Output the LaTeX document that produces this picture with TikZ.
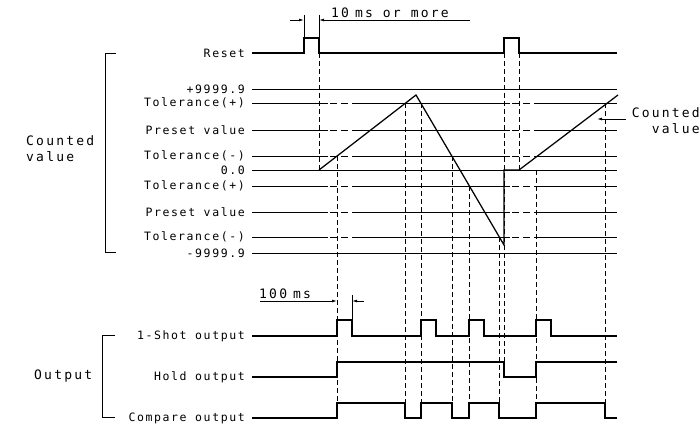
\documentclass[tikz,border=0pt]{standalone}
\usepackage{fontspec}
\newfontfamily\lblfont[LetterSpace=14]{DejaVu Sans Mono}
\newfontfamily\bigfont[LetterSpace=17]{DejaVu Sans Mono}
\usetikzlibrary{arrows.meta}
\begin{document}
\begin{tikzpicture}[x=1pt,y=-1pt,
  lvl/.style={line width=0.9pt},
  sig/.style={line width=1.25pt, line join=miter},
  guide/.style={line width=0.75pt, dash pattern=on 5pt off 3pt},
  dashseg/.style={line width=0.9pt, dash pattern=on 7pt off 4pt},
  lbl/.style={anchor=east, font=\lblfont\fontsize{11.5}{13}\selectfont, inner sep=0pt},
  big/.style={font=\bigfont\fontsize{13}{16}\selectfont, inner sep=0pt},
  dimline/.style={line width=0.75pt},
  tip/.style={-{Latex[length=5pt,width=2.8pt]}},
]
\useasboundingbox (0,0) rectangle (700,427);

% ---------- left labels ----------
\node[lbl] (lreset) at (245,53) {Reset};
\node[lbl] (lpmax)  at (245,89) {+9999.9};
\node[lbl] (ltpa)   at (245,103) {Tolerance(+)};
\node[lbl] (lpra)   at (245,130) {Preset value};
\node[lbl] (ltma)   at (245,156) {Tolerance(-)};
\node[lbl] (lzero)  at (245,170) {0.0};
\node[lbl] (ltpb)   at (245,186) {Tolerance(+)};
\node[lbl] (lprb)   at (245,212) {Preset value};
\node[lbl] (ltmb)   at (245,237) {Tolerance(-)};
\node[lbl] (lpmin)  at (245,253) {-9999.9};
\node[lbl] (lshot)  at (245,336) {1-Shot output};
\node[lbl] (lhold)  at (245,377) {Hold output};
\node[lbl] (lcomp)  at (245,418) {Compare output};

% group labels and brackets
\node[big, anchor=west, align=left] (lcv) at (26,149) {Counted\\value};
\node[big, anchor=west] (lout) at (34,376) {Output};
\draw[lvl] (116,53) -- (105,53) -- (105,252) -- (116,252);
\draw[lvl] (115,335) -- (102,335) -- (102,417) -- (115,417);

% ---------- level lines ----------
\draw[lvl] (252,89) -- (617,89);
\draw[lvl] (252,170) -- (617,170);
\draw[lvl] (252,253) -- (617,253);
\foreach \yy in {103,130,156,186,212,237}{
  \draw[lvl] (252,\yy) -- (328,\yy);
  \draw[dashseg] (330,\yy) -- (352,\yy);
  \draw[lvl] (352,\yy) -- (510,\yy);
  \draw[dashseg] (512,\yy) -- (534,\yy);
  \draw[lvl] (534,\yy) -- (617,\yy);
}

% ---------- reset signal ----------
\draw[sig] (252,53) -- (304,53) -- (304,38) -- (319,38) -- (319,53) -- (504,53) -- (504,38) -- (519,38) -- (519,53) -- (617,53);

% 10 ms dimension
\draw[dimline] (304,38) -- (304,15);
\draw[dimline] (319,38) -- (319,15);
\draw[dimline,tip] (290,20) -- (304,20);
\draw[dimline,tip] (470,20) -- (319,20);
\node[big, anchor=south west] (t10) at (331,18) {10\hspace{6pt}ms or more};

% ---------- counted value ----------
\draw[sig] (319,170) -- (416,95) -- (504,245) -- (504,170) -- (519,170) -- (618,95);
\node[big, anchor=east, align=right] (lcv2) at (700,121) {Counted\\value};
\draw[dimline,tip] (lcv2.west |- 0,119) ++(-6,0) coordinate (cvs) -- (597,119);

% ---------- guide lines ----------
\draw[guide] (319,53) -- (319,170);
\draw[guide] (337,156) -- (337,418);
\draw[guide] (405,103) -- (405,418);
\draw[guide] (421,103) -- (421,418);
\draw[guide] (452,156) -- (452,418);
\draw[guide] (469,186) -- (469,418);
\draw[guide] (499,237) -- (499,418);
\draw[guide] (504,53) -- (504,377);
\draw[guide] (519,53) -- (519,170);
\draw[guide] (536,170) -- (536,418);
\draw[guide] (605,103) -- (605,418);

% ---------- outputs ----------
\draw[sig] (252,336) -- (337,336) -- (337,320) -- (352,320) -- (352,336) -- (421,336) -- (421,320) -- (436,320) -- (436,336) -- (469,336) -- (469,320) -- (484,320) -- (484,336) -- (536,336) -- (536,320) -- (551,320) -- (551,336) -- (617,336);
\draw[sig] (252,377) -- (337,377) -- (337,362) -- (504,362) -- (504,377) -- (536,377) -- (536,362) -- (617,362);
\draw[sig] (252,418) -- (337,418) -- (337,403) -- (405,403) -- (405,418) -- (421,418) -- (421,403) -- (452,403) -- (452,418) -- (469,418) -- (469,403) -- (499,403) -- (499,418) -- (536,418) -- (536,403) -- (605,403) -- (605,418) -- (617,418);

% 100 ms dimension
\draw[dimline] (352,320) -- (352,295);
\draw[dimline,tip] (260,301) -- (337,301);
\draw[dimline,tip] (364,301) -- (352,301);
\node[big, anchor=south west] (t100) at (259,299) {100\hspace{6pt}ms};
\end{tikzpicture}
\end{document}
